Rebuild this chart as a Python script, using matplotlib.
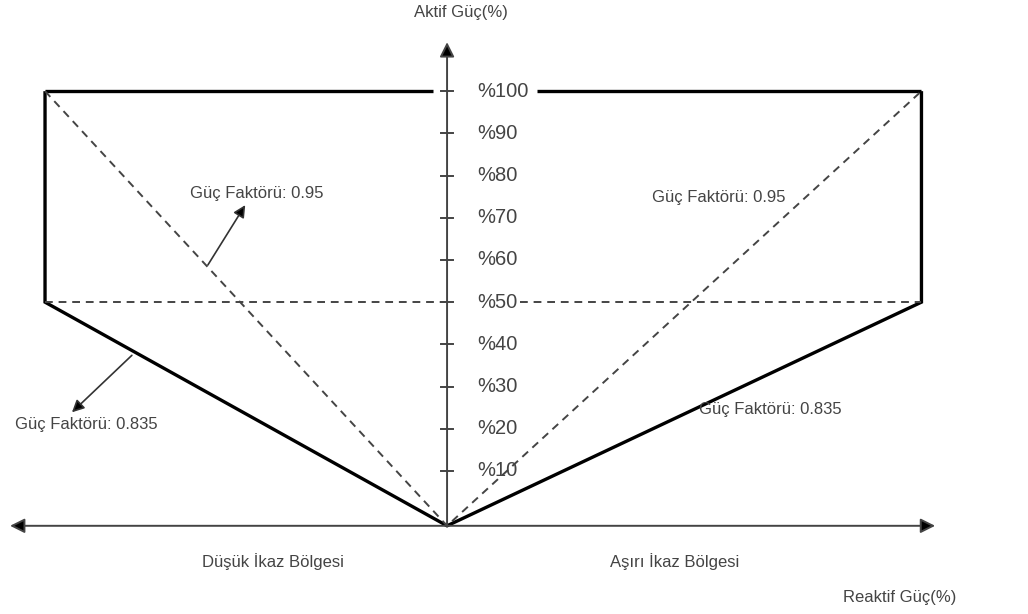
import matplotlib
matplotlib.use("Agg")
import matplotlib.pyplot as plt

plt.rcParams["font.family"] = ["Liberation Sans", "DejaVu Sans"]

# diagram values (P = active power %, Q = reactive power, arbitrary % scale)
p_ticks = [10, 20, 30, 40, 50, 60, 70, 80, 90, 100]
p_labels = ["%10", "%20", "%30", "%40", "%50", "%60", "%70", "%80", "%90", "%100"]
p_max = 100
p_min = 50
q_left = -100     # under-excitation edge
q_right = 118     # over-excitation edge
origin = (0, -3)  # where the two axes cross
pf_high = "Güç Faktörü: 0.95"
pf_low = "Güç Faktörü: 0.835"

fig = plt.figure(figsize=(10.28, 6.14), dpi=100)
ax = fig.add_axes([0, 0, 1, 1])
ax.set_xlim(-111.2, 144.5)
ax.set_ylim(-23.9, 121.6)
ax.axis("off")

solid = dict(color="black", lw=2.4, solid_capstyle="butt", solid_joinstyle="miter")
dashed = dict(color="#444444", lw=1.4, ls=(0, (4, 3)))
axis_col = "#444444"
text_col = "#444444"

# outer boundary (thick solid)
ax.plot([q_left, -3.5], [p_max, p_max], **solid)
ax.plot([22.4, q_right], [p_max, p_max], **solid)
ax.plot([q_left, q_left, origin[0], q_right, q_right],
        [p_max, p_min, origin[1], p_min, p_max], **solid)

# pf 0.95 diagonals and 50% line (dashed)
ax.plot([q_left, origin[0], q_right], [p_max, origin[1], p_max], **dashed)
ax.plot([q_left, 0], [p_min, p_min], **dashed)
ax.plot([18.2, q_right], [p_min, p_min], **dashed)

# axes
ax.annotate("", xy=(0, 111.6), xytext=origin,
            arrowprops=dict(arrowstyle="-|>", color=axis_col, lw=1.4,
                            mutation_scale=22, shrinkA=0, shrinkB=0, fc="black"))
ax.annotate("", xy=(-108.7, origin[1]), xytext=(121.4, origin[1]),
            arrowprops=dict(arrowstyle="<|-|>", color=axis_col, lw=1.4,
                            mutation_scale=22, shrinkA=0, shrinkB=0, fc="black"))

for v, lab in zip(p_ticks, p_labels):
    ax.plot([-1.5, 1.5], [v, v], color=axis_col, lw=1.4)
    ax.text(7.5, v, lab, ha="left", va="center", fontsize=14.5, color=text_col)

# texts
ax.text(3.5, 118.7, "Aktif Güç(%)", ha="center", va="center", fontsize=12, color=text_col)
ax.text(-47.3, 75.8, pf_high, ha="center", va="center", fontsize=12, color=text_col)
ax.text(67.7, 74.9, pf_high, ha="center", va="center", fontsize=12, color=text_col)
ax.text(-89.8, 20.9, pf_low, ha="center", va="center", fontsize=12, color=text_col)
ax.text(80.3, 24.6, pf_low, ha="center", va="center", fontsize=12, color=text_col)
ax.text(-43.3, -11.4, "Düşük İkaz Bölgesi", ha="center", va="center", fontsize=12, color=text_col)
ax.text(56.7, -11.4, "Aşırı İkaz Bölgesi", ha="center", va="center", fontsize=12, color=text_col)
ax.text(112.7, -19.9, "Reaktif Güç(%)", ha="center", va="center", fontsize=12, color=text_col)

# pointer arrows
ax.annotate("", xy=(-50.2, 73.0), xytext=(-59.5, 58.8),
            arrowprops=dict(arrowstyle="-|>", color="#333333", lw=1.2,
                            mutation_scale=18, shrinkA=0, shrinkB=0, fc="black"))
ax.annotate("", xy=(-93.3, 23.9), xytext=(-78.4, 37.4),
            arrowprops=dict(arrowstyle="-|>", color="#333333", lw=1.2,
                            mutation_scale=18, shrinkA=0, shrinkB=0, fc="black"))

fig.savefig("out.png", dpi=100)
